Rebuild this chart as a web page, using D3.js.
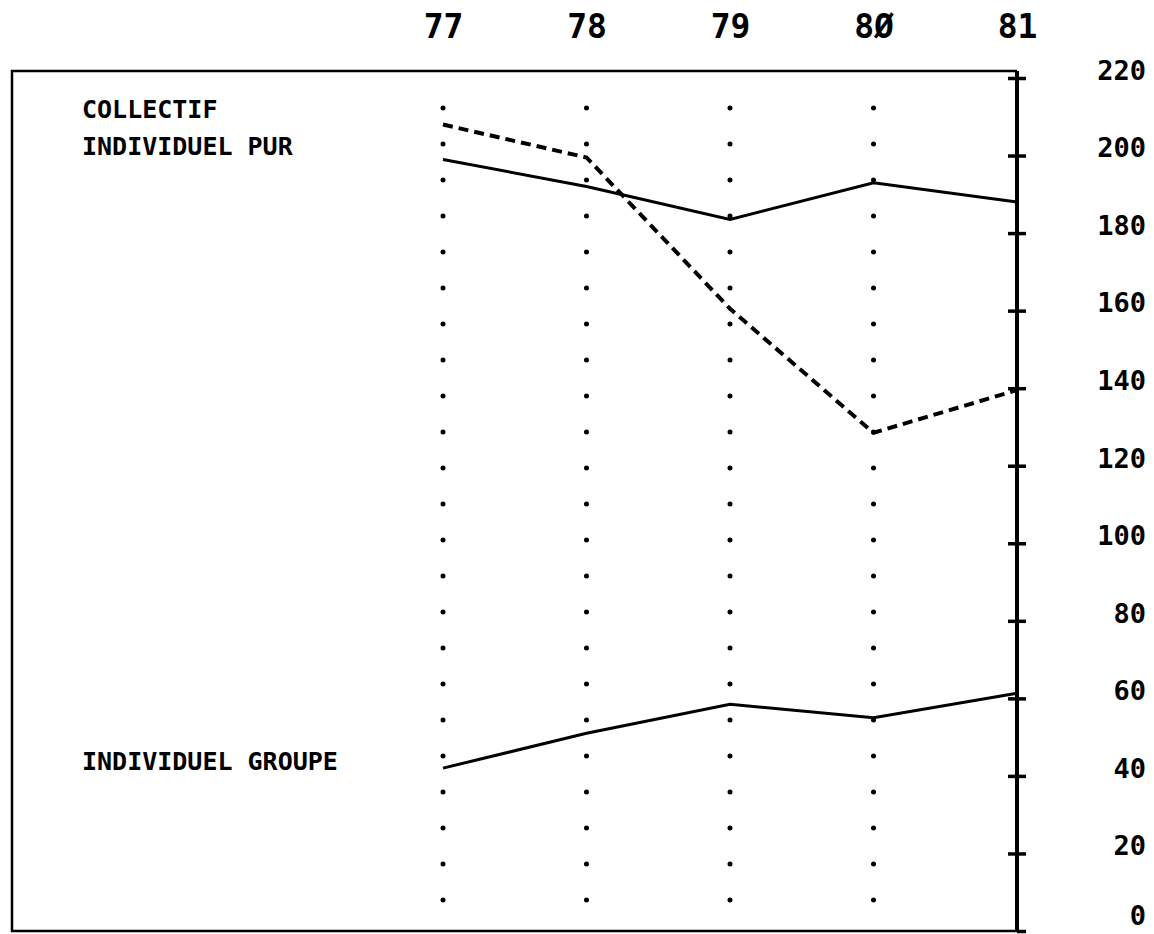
<!DOCTYPE html>
<html>
<head>
<meta charset="utf-8">
<script src="https://cdn.jsdelivr.net/npm/d3@7"></script>
<style>
  body { margin: 0; background: #fff; }
  svg { display: block; }
</style>
</head>
<body>
<div id="chart"></div>
<script>
// years on the top axis
var years = [77, 78, 79, 80, 81];
var yTicks = [0, 20, 40, 60, 80, 100, 120, 140, 160, 180, 200, 220];
var collectif = [208, 199.5, 160.5, 128.5, 139.5];          // dashed
var individuelPur = [199, 192, 183.5, 193, 188];            // solid, top
var individuelGroupe = [42, 51, 58.5, 55, 61.3];            // solid, bottom

var width = 1154, height = 934;

var svg = d3.select("#chart")
        .append("svg")
        .attr("width", width)
        .attr("height", height);

var x = d3.scaleLinear().domain([77, 81]).range([443, 1017]);
var y = d3.scaleLinear().domain([0, 220]).range([931, 78]);

var boxLeft = 12, boxTop = 71;

// frame (left, top, bottom); the right side is the axis
svg.append("path")
        .attr("d", "M" + x(81) + "," + boxTop + "H" + boxLeft + "V" + y(0) + "H" + x(81))
        .attr("fill", "none")
        .attr("stroke", "#000")
        .attr("stroke-width", 2.5);

// dotted verticals at the years
svg.append("g").selectAll("line")
        .data(years.slice(0, 4))
        .join("line")
        .attr("x1", function (d) { return x(d); })
        .attr("x2", function (d) { return x(d); })
        .attr("y1", 108)
        .attr("y2", 905)
        .attr("stroke", "#000")
        .attr("stroke-width", 5)
        .attr("stroke-linecap", "round")
        .attr("stroke-dasharray", "0 36");

// top axis with the years
var topAxis = svg.append("g")
        .attr("transform", "translate(0,38)")
        .call(d3.axisTop(x).tickValues(years).tickSize(0).tickPadding(0)
                .tickFormat(function (d) { return d === 80 ? "8\u00D8" : String(d); }));
topAxis.select(".domain").remove();
topAxis.selectAll("text")
        .attr("font-family", "'DejaVu Sans Mono', monospace")
        .attr("font-weight", "bold")
        .attr("font-size", "33px")
        .attr("fill", "#000");

// right axis with crossing ticks
var rightAxis = svg.append("g")
        .attr("transform", "translate(" + x(81) + ",0)")
        .call(d3.axisRight(y).tickValues(yTicks).tickSize(9).tickPadding(0));
rightAxis.select(".domain")
        .attr("d", "M0," + boxTop + "V" + y(0))
        .attr("stroke-width", 4);
rightAxis.selectAll(".tick line")
        .attr("x1", function (d) { return d === 0 ? 0 : -9; })
        .attr("stroke-width", 3.5);
rightAxis.selectAll(".tick text")
        .attr("x", 129)
        .attr("dy", "0.05em")
        .attr("text-anchor", "end")
        .attr("font-family", "'DejaVu Sans Mono', monospace")
        .attr("font-weight", "bold")
        .attr("font-size", "27px")
        .attr("fill", "#000");
// keep the bottom label inside the picture
rightAxis.selectAll(".tick")
        .filter(function (d) { return d === 0; })
        .select("text")
        .attr("y", -8);

var line = d3.line()
        .x(function (d, i) { return x(years[i]); })
        .y(function (d) { return y(d); });

svg.append("path")
        .datum(collectif)
        .attr("d", line)
        .attr("fill", "none")
        .attr("stroke", "#000")
        .attr("stroke-width", 4)
        .attr("stroke-dasharray", "10 6");

svg.append("path")
        .datum(individuelPur)
        .attr("d", line)
        .attr("fill", "none")
        .attr("stroke", "#000")
        .attr("stroke-width", 3);

svg.append("path")
        .datum(individuelGroupe)
        .attr("d", line)
        .attr("fill", "none")
        .attr("stroke", "#000")
        .attr("stroke-width", 3);

// series labels
var labels = [
    { t: "COLLECTIF", y: 118 },
    { t: "INDIVIDUEL PUR", y: 155 },
    { t: "INDIVIDUEL GROUPE", y: 770 }
];
svg.append("g").selectAll("text")
        .data(labels)
        .join("text")
        .attr("x", 82)
        .attr("y", function (d) { return d.y; })
        .attr("font-family", "'DejaVu Sans Mono', monospace")
        .attr("font-weight", "bold")
        .attr("font-size", "25px")
        .attr("fill", "#000")
        .text(function (d) { return d.t; });
</script>
</body>
</html>
